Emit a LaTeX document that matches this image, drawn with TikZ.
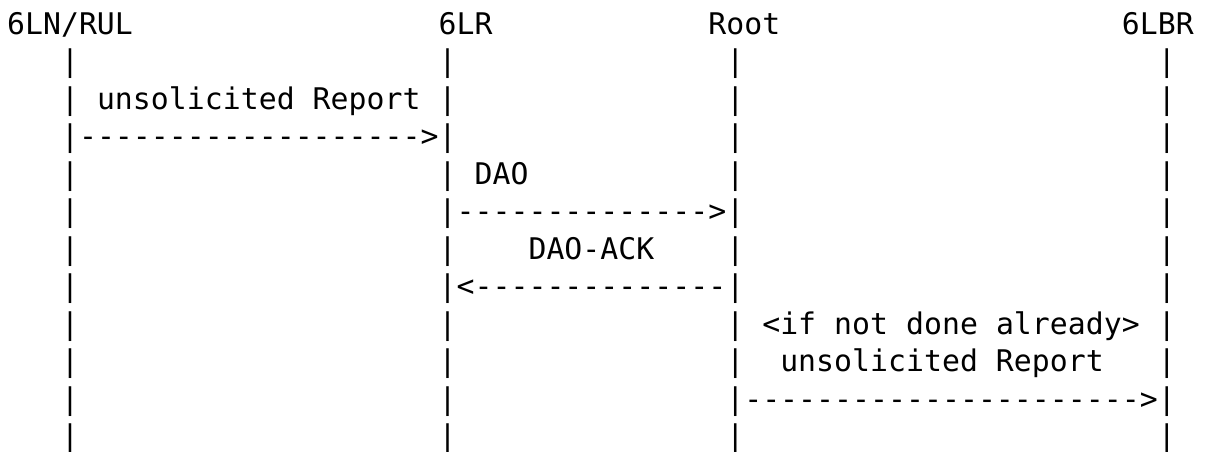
\documentclass[tikz,border=0pt]{standalone}
\usepackage{fontspec}
\newfontfamily\asciifont{DejaVu Sans Mono}
\newlength\cellw
\setlength\cellw{17.98pt}
\def\asciiloop#1{\ifx#1\relax\else\makebox[\cellw][c]{#1}\expandafter\asciiloop\fi}
\newcommand\asciirow[1]{\asciiloop#1\relax}
\tikzset{
  cell/.style={anchor=base west, inner sep=0pt, outer sep=0pt,
    font=\asciifont\fontsize{29.8}{34}\selectfont, text=black}
}
\newcommand\seg[4]{\node[cell] (#1) at ({7.1+#2*17.98},{-34-#3*37.5}) {\asciirow{#4}};}
\begin{document}
\begin{tikzpicture}[x=1pt,y=1pt]
\fill[white] (0,0) rectangle (1210,-451);
\useasboundingbox (0,0) rectangle (1210,-451);
% headers
\seg{h1}{0}{0}{6LN/RUL}
\seg{h2}{24}{0}{6LR}
\seg{h3}{39}{0}{Root}
\seg{h4}{62}{0}{6LBR}
% lifelines
\foreach \r in {1,...,11}{
  \foreach \c/\n in {3/a,24/b,40/c,64/d}{
    \node[cell] (p\n\r) at ({7.1+\c*17.98},{-34-\r*37.5}) {\asciirow{|}};
  }
}
% message 1
\seg{m1label}{5}{2}{unsolicited~Report}
\seg{m1arrow}{4}{3}{------------------->}
% DAO
\seg{m2label}{26}{4}{DAO}
\seg{m2arrow}{25}{5}{-------------->}
% DAO-ACK
\seg{m3label}{29}{6}{DAO-ACK}
\seg{m3arrow}{25}{7}{<--------------}
% report to 6LBR
\seg{m4note}{42}{8}{<if~not~done~already>}
\seg{m4label}{43}{9}{unsolicited~Report}
\seg{m4arrow}{41}{10}{---------------------->}
\end{tikzpicture}
\end{document}
